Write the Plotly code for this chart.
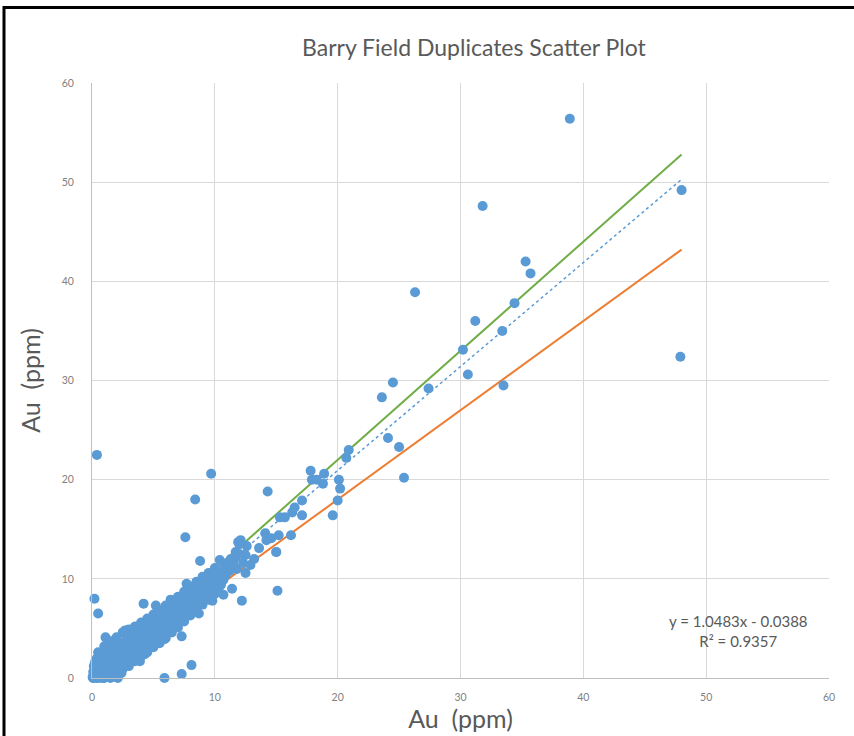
import plotly.graph_objects as go

# original assay vs field duplicate, Au ppm
orig_au = [
    # dense cluster near the 1:1 line
    0.05, 0.1, 0.15, 0.2, 0.25, 0.3, 0.35, 0.4, 0.45, 0.5, 0.55, 0.6, 0.65, 0.7, 0.75, 0.8,
    0.85, 0.9, 0.95, 1.0, 1.05, 1.1, 1.15, 1.2, 1.3, 1.35, 1.4, 1.5, 1.55, 1.6, 1.7, 1.75,
    1.8, 1.9, 2.0, 2.05, 2.1, 2.2, 2.3, 2.35, 2.4, 2.5, 2.55, 2.6, 2.7, 2.75, 2.8, 2.9,
    3.0, 3.05, 3.1, 3.2, 3.25, 3.3, 3.4, 3.45, 3.5, 3.6, 3.65, 3.7, 3.8, 3.85, 3.9, 4.0,
    4.05, 4.1, 4.2, 4.25, 4.3, 4.4, 4.45, 4.5, 4.6, 4.65, 4.7, 4.8, 4.85, 4.9, 5.0, 5.05,
    5.1, 5.2, 5.25, 5.3, 5.4, 5.45, 5.5, 5.6, 5.65, 5.7, 5.8, 5.85, 5.9, 6.0, 6.05, 6.1,
    6.2, 6.25, 6.3, 6.4, 6.45, 6.5, 6.6, 6.65, 6.7, 6.8, 6.85, 6.9, 7.0, 7.05, 7.1, 7.2,
    7.25, 7.3, 7.4, 7.45, 7.5, 7.6, 7.65, 7.7, 7.8, 7.85, 7.9, 8.0, 8.05, 8.1, 8.2, 8.25,
    8.3, 8.4, 8.45, 8.5, 8.6, 8.65, 8.7, 8.8, 8.9, 8.95, 9.0, 9.1, 9.2, 9.3, 9.4, 9.5,
    9.6, 9.7, 9.8, 9.9, 10.0, 10.1, 10.2, 10.3, 10.4, 10.5, 10.6, 10.7, 10.8, 10.9, 11.0, 11.2,
    11.3, 11.5, 11.7, 11.8, 12.0,
    0.1, 0.3, 0.5, 0.7, 0.2, 0.4, 0.9, 1.2, 1.5, 0.6, 1.0, 1.4,
    # upper and lower edge of the cluster
    0.5, 1.0, 1.5, 2.0, 2.5, 3.0, 3.5, 4.0, 4.5, 5.0, 5.5, 6.0, 6.5, 7.0, 7.5, 8.0,
    8.5, 9.0, 9.5, 10.0,
    1.0, 1.5, 2.0, 2.5, 3.0, 3.5, 4.0, 4.5, 5.0, 5.5, 6.0, 6.5, 7.0, 7.5, 8.0, 8.5,
    9.0, 9.5, 10.0,
    # scattered points around the cluster
    0.2, 0.5, 4.2, 5.2, 6.4, 2.7, 1.1, 1.7, 3.9, 4.3, 5.9, 7.3, 5.9, 7.3, 8.1, 2.4,
    2.1, 0.1, 0.8, 7.7, 8.7, 9.8, 10.7, 11.4, 12.2, 15.1, 8.8, 10.4,
    # mid range
    0.4, 9.7, 8.4, 7.6, 14.3, 12.5, 11.9, 12.6, 14.2, 15.0, 13.6, 12.1, 12.0, 11.7, 12.5, 11.5,
    12.3, 12.9, 13.2, 14.1, 14.6, 15.2, 15.0, 16.2, 15.3, 15.7, 16.3, 16.5, 17.1, 17.1, 17.8, 17.9,
    18.3, 18.9, 18.8, 20.1, 20.2, 20.0, 19.6, 20.7, 20.9,
    # high grade
    23.6, 24.1, 24.5, 25.0, 25.4, 26.3, 27.4, 30.2, 30.6, 31.2, 31.8, 33.4, 33.5, 34.4, 35.3, 35.7,
    38.9, 47.9, 48.0,
]
dup_au = [
    0.1, 0.6, 1.2, 0.3, 1.6, 0.9, 0.0, 1.4, 0.5, 1.9, 1.0, 0.2, 1.5, 0.7, 2.1, 1.2,
    0.4, 1.8, 0.9, 2.4, 1.3, 0.6, 1.9, 1.0, 2.6, 1.5, 0.8, 2.1, 1.2, 2.9, 1.7, 0.9,
    2.4, 1.4, 3.1, 2.0, 1.2, 2.7, 1.8, 3.4, 2.3, 1.5, 3.0, 2.1, 3.7, 2.6, 1.9, 3.3,
    2.5, 4.0, 3.0, 2.2, 3.6, 2.8, 4.3, 3.3, 2.6, 3.9, 3.0, 4.6, 3.6, 2.9, 4.2, 3.4,
    4.9, 4.0, 3.2, 4.5, 3.7, 5.2, 4.3, 3.5, 4.8, 4.0, 5.5, 4.5, 3.8, 5.1, 4.3, 5.8,
    4.8, 4.0, 5.4, 4.6, 6.1, 5.1, 4.3, 5.7, 4.9, 6.4, 5.4, 4.6, 6.0, 5.2, 6.8, 5.7,
    4.9, 6.3, 5.5, 7.1, 6.0, 5.2, 6.6, 5.8, 7.4, 6.4, 5.6, 6.9, 6.1, 7.7, 6.7, 5.9,
    7.2, 6.5, 8.0, 7.0, 6.3, 7.6, 6.8, 8.4, 7.3, 6.6, 7.9, 7.1, 8.7, 7.6, 6.9, 8.2,
    7.5, 9.0, 8.0, 7.3, 8.6, 7.8, 9.4, 8.3, 7.7, 9.0, 8.2, 9.7, 8.7, 8.0, 9.3, 8.6,
    10.1, 9.1, 8.4, 9.7, 9.0, 10.4, 9.6, 8.9, 10.1, 9.4, 10.8, 9.9, 11.2, 10.4, 11.6, 10.8,
    12.0, 11.3, 12.2, 11.0, 12.5,
    0.0, 0.4, 0.0, 1.1, 1.0, 2.0, 0.0, 0.2, 0.0, 2.4, 1.6, 2.6,
    2.6, 3.2, 3.7, 4.1, 4.6, 4.9, 5.2, 5.6, 6.0, 6.4, 6.8, 7.3, 7.7, 8.2, 8.7, 9.2,
    9.7, 10.2, 10.6, 11.1,
    0.0, 0.3, 0.5, 0.9, 1.2, 1.7, 2.2, 2.6, 3.1, 3.5, 4.0, 4.6, 5.1, 5.7, 6.3, 6.8,
    7.4, 7.9, 8.5,
    8.0, 6.5, 7.5, 7.3, 7.9, 4.8, 4.1, 3.7, 1.7, 2.4, 3.9, 4.2, 0.0, 0.4, 1.3, 0.5,
    0.0, 0.0, 0.0, 9.5, 6.5, 7.8, 8.4, 9.0, 7.8, 8.8, 11.8, 11.9,
    22.5, 20.6, 18.0, 14.2, 18.8, 10.6, 13.7, 13.3, 13.9, 12.7, 13.1, 13.9, 13.5, 12.7, 12.4, 11.7,
    11.6, 11.4, 12.0, 14.6, 14.1, 14.4, 12.7, 14.4, 16.2, 16.2, 16.7, 17.2, 17.9, 16.4, 20.9, 20.0,
    20.0, 20.6, 19.6, 20.0, 19.1, 17.9, 16.4, 22.2, 23.0,
    28.3, 24.2, 29.8, 23.3, 20.2, 38.9, 29.2, 33.1, 30.6, 36.0, 47.6, 35.0, 29.5, 37.8, 42.0, 40.8,
    56.4, 32.4, 49.2,
]

# +10% / -10% bounds and the linear trendline, end points
line_x = [0, 48]
upper_y = [0, 52.8]
lower_y = [0, 43.2]
trend_y = [-0.0388, 50.28]

grey = "#595959"
axis_title = "Au&nbsp;&nbsp;(ppm)"
fig = go.Figure()

fig.add_trace(go.Scatter(x=line_x, y=upper_y, mode="lines",
                         line=dict(color="#70AD47", width=2), hoverinfo="skip"))
fig.add_trace(go.Scatter(x=line_x, y=lower_y, mode="lines",
                         line=dict(color="#ED7D31", width=2), hoverinfo="skip"))
fig.add_trace(go.Scatter(x=line_x, y=trend_y, mode="lines",
                         line=dict(color="#5B9BD5", width=1.5, dash="dot"), hoverinfo="skip"))
fig.add_trace(go.Scatter(x=orig_au, y=dup_au, mode="markers",
                         marker=dict(color="#5B9BD5", size=10), cliponaxis=False))

axis_common = dict(
    range=[0, 60], dtick=10, showgrid=True, gridcolor="#D9D9D9", gridwidth=1,
    zeroline=False, showline=True, linecolor="#BFBFBF", linewidth=1,
    tickfont=dict(family="Lato", size=10.5, color="#7F7F7F"),
    ticks="outside", tickcolor="rgba(0,0,0,0)",
)

fig.update_layout(
    width=854, height=736,
    paper_bgcolor="white", plot_bgcolor="white",
    margin=dict(l=92, r=25, t=83, b=58),
    showlegend=False,
    font=dict(family="Lato", color=grey),
    title=dict(text="Barry Field Duplicates Scatter Plot", x=0.555, xanchor="center",
               y=0.935, yanchor="middle", font=dict(family="Lato", size=23, color=grey)),
    xaxis=dict(axis_common, ticklen=9, title=dict(text=axis_title, standoff=2,
               font=dict(family="Lato", size=25, color=grey))),
    yaxis=dict(axis_common, ticklen=15, title=dict(text=axis_title, standoff=13,
               font=dict(family="Lato", size=25, color=grey))),
)

fig.add_annotation(text="y = 1.0483x - 0.0388<br>R² = 0.9357", xref="x", yref="y",
                   x=52.6, y=4.7, showarrow=False, align="center",
                   font=dict(family="Lato", size=15, color=grey))

# black frame of the pasted image (only top and left edges fall inside the picture)
fig.add_shape(type="rect", xref="paper", yref="paper", x0=-0.1194, x1=1.2, y0=-0.3, y1=1.127,
              line=dict(color="black", width=3), fillcolor="rgba(0,0,0,0)", layer="above")

fig.write_html("out.html", config={"displayModeBar": False},
               post_script="document.body.style.margin='0';")
